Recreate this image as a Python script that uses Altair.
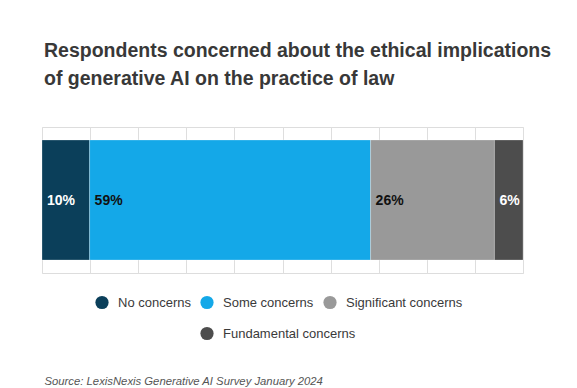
import altair as alt
import pandas as pd

categories = ["No concerns", "Some concerns", "Significant concerns", "Fundamental concerns"]
values = [10, 59, 26, 6]
labels = ["10%", "59%", "26%", "6%"]
colors = ["#0b3f5a", "#14a8e8", "#999999", "#4d4d4d"]
grid_values = [0, 0.1, 0.2, 0.3, 0.4, 0.5, 0.6, 0.7, 0.8, 0.9, 1.0]

title_lines = [
    "Respondents concerned about the ethical implications",
    "of generative AI on the practice of law",
]
source = "Source: LexisNexis Generative AI Survey January 2024"

FONT = "Liberation Sans"

df = pd.DataFrame({
    "category": categories,
    "value": values,
    "label": labels,
    "order": list(range(len(categories))),
})

base = (
    alt.Chart(df)
    .transform_window(cum="sum(value)", sort=[alt.SortField("order")], frame=[None, 0])
    .transform_joinaggregate(total="sum(value)")
    .transform_calculate(
        x0="(datum.cum - datum.value) / datum.total",
        x1="datum.cum / datum.total",
        row="'all'",
    )
)

x = alt.X(
    "x0:Q",
    scale=alt.Scale(domain=[0, 1], nice=False, zero=True),
    axis=alt.Axis(
        values=grid_values,
        grid=True,
        gridColor="#dedede",
        gridWidth=1,
        labels=False,
        ticks=False,
        domain=False,
        title=source,
        titleX=2,
        titleY=111,
        titleAlign="left",
        titleBaseline="alphabetic",
        titleFont=FONT,
        titleFontSize=11.3,
        titleFontStyle="italic",
        titleFontWeight="normal",
        titleColor="#555555",
    ),
)
y = alt.Y("row:N", axis=None, scale=alt.Scale(paddingInner=0, paddingOuter=0.1083))

legend_common = dict(
    title=None,
    orient="none",
    direction="horizontal",
    symbolType="circle",
    symbolSize=175,
    symbolStrokeWidth=0,
    labelFont=FONT,
    labelFontSize=13,
    labelColor="#3a3a3a",
    labelOffset=9,
    columnPadding=9,
    padding=0,
)

bars_main = (
    base.transform_filter(alt.FieldOneOfPredicate(field="category", oneOf=categories[:3]))
    .mark_bar(stroke="white", strokeOpacity=0.25, strokeWidth=1)
    .encode(
        x=x,
        x2="x1:Q",
        y=y,
        color=alt.Color(
            "category:N",
            sort=categories[:3],
            scale=alt.Scale(domain=categories[:3], range=colors[:3]),
            legend=alt.Legend(legendX=53, legendY=168.5, **legend_common),
        ),
    )
)

bars_fund = (
    base.transform_filter(alt.FieldOneOfPredicate(field="category", oneOf=categories[3:]))
    .mark_bar(stroke="white", strokeOpacity=0.25, strokeWidth=1)
    .encode(
        x=x,
        x2="x1:Q",
        y=y,
        fill=alt.Fill(
            "category:N",
            scale=alt.Scale(domain=categories[3:], range=colors[3:]),
            legend=alt.Legend(legendX=158, legendY=199.5, **legend_common),
        ),
    )
)

text = base.mark_text(
    align="left", baseline="middle", dx=5, dy=1, font=FONT, fontSize=14, fontWeight="bold"
).encode(
    x=x,
    y=y,
    text="label:N",
    color=alt.condition(
        alt.FieldOneOfPredicate(field="category", oneOf=[categories[0], categories[3]]),
        alt.value("#ffffff"),
        alt.value("#111111"),
    ),
)

chart = (
    alt.layer(bars_main, bars_fund, text)
    .properties(
        width=481,
        height=146,
        autosize=alt.AutoSizeParams(type="none"),
        padding={"left": 34, "top": 119, "right": 46, "bottom": 115},
        title=alt.TitleParams(
            text=title_lines,
            anchor="start",
            frame="group",
            dx=2,
            offset=38,
            font=FONT,
            fontSize=19.5,
            fontWeight="bold",
            color="#383838",
            lineHeight=28,
        ),
    )
    .configure_view(strokeWidth=0)
    .configure(background="white")
)

chart.save("out.html", embed_options={"renderer": "svg", "actions": False})
